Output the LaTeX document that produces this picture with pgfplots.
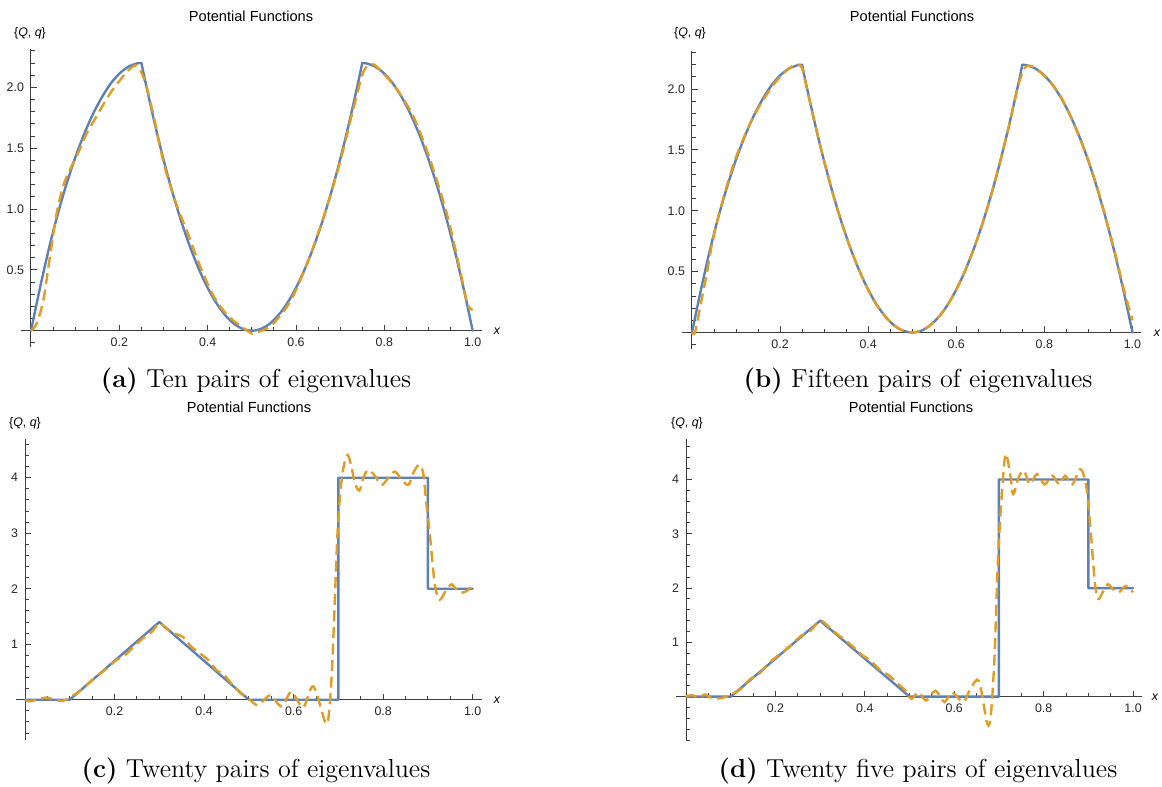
\documentclass[border=0pt]{standalone}
\usepackage{fontspec}
\usepackage{pgfplots}
\pgfplotsset{compat=1.18}
\newfontfamily\mma{Liberation Sans}
\definecolor{QColor}{HTML}{5E81B5}
\definecolor{qColor}{HTML}{E19C24}
\definecolor{AxisGray}{HTML}{404040}

\newcommand\tickfont{\mma\fontsize{6.2}{7.4}\selectfont}
\newcommand\titlefont{\mma\fontsize{7.3}{8.8}\selectfont}
\newcommand\capfont{\fontsize{13}{15.6}\selectfont}

\pgfplotsset{
    mma/.style={
        axis lines=middle,
        axis line style={-, AxisGray, line width=0.5pt},
        tick align=inside,
        major tick length=3pt,
        minor tick length=1.8pt,
        tick style={AxisGray, line width=0.45pt},
        tick label style={font=\tickfont, text=black!85},
        enlargelimits=false,
        xtick={0.2,0.4,0.6,0.8,1.0},
        xticklabels={0.2,0.4,0.6,0.8,1.0},
        minor xtick={0.05,0.1,0.15,0.25,0.3,0.35,0.45,0.5,0.55,0.65,0.7,0.75,0.85,0.9,0.95},
    },
    Qline/.style={QColor, line width=1.2pt, line join=round, line cap=round},
    qline/.style={qColor, line width=1.2pt, dash pattern=on 5.5pt off 2.8pt, smooth},
}

\begin{document}
\begin{tikzpicture}
\useasboundingbox (0,0) rectangle (581pt,-393.5pt);

% ---------------- (a) ten pairs ----------------
\begin{axis}[mma,
    at={(10.5pt,-173.5pt)}, anchor=south west,
    x=220.85pt, y=60.85pt,
    xmin=-0.0226, xmax=1.0204, ymin=-0.134, ymax=2.315,
    ytick={0.5,1.0,1.5,2.0}, yticklabels={0.5,1.0,1.5,2.0},
    minor ytick={-0.1,0.1,0.2,0.3,0.4,0.6,0.7,0.8,0.9,1.1,1.2,1.3,1.4,1.6,1.7,1.8,1.9,2.1,2.2,2.3}]
\addplot[Qline, smooth] coordinates {
    (0,0) (0.02,0.345) (0.04,0.665) (0.06,0.950) (0.08,1.200) (0.10,1.420)
    (0.12,1.612) (0.14,1.778) (0.16,1.915) (0.18,2.028) (0.20,2.112)
    (0.22,2.168) (0.24,2.196) (0.25,2.2)};
\addplot[Qline, smooth] coordinates {
    (0.25,2.2) (0.26,2.028) (0.28,1.704) (0.30,1.408) (0.32,1.140) (0.34,0.901)
    (0.36,0.690) (0.38,0.507) (0.40,0.352) (0.42,0.225) (0.44,0.127) (0.46,0.056)
    (0.48,0.014) (0.50,0) (0.52,0.014) (0.54,0.056) (0.56,0.127) (0.58,0.225)
    (0.60,0.352) (0.62,0.507) (0.64,0.690) (0.66,0.901) (0.68,1.140) (0.70,1.408)
    (0.72,1.704) (0.74,2.028) (0.75,2.2)};
\addplot[Qline, smooth] coordinates {
    (0.75,2.2) (0.76,2.196) (0.78,2.168) (0.80,2.112) (0.82,2.028) (0.84,1.915)
    (0.86,1.774) (0.88,1.605) (0.90,1.408) (0.92,1.183) (0.94,0.929) (0.96,0.648)
    (0.98,0.338) (1.0,0)};
\addplot[qline] coordinates {
    (0,0) (0.013,0.06) (0.028,0.25) (0.043,0.61) (0.058,0.96) (0.073,1.19)
    (0.089,1.33) (0.108,1.47) (0.126,1.62) (0.145,1.74) (0.164,1.86) (0.183,1.97)
    (0.202,2.06) (0.218,2.13) (0.236,2.18) (0.249,2.13) (0.262,2.00) (0.278,1.76)
    (0.301,1.37) (0.331,1.02) (0.354,0.81) (0.384,0.52) (0.414,0.28) (0.444,0.13)
    (0.474,0.04) (0.498,-0.02) (0.504,-0.02) (0.526,0.005) (0.549,0.06) (0.587,0.24)
    (0.625,0.55) (0.663,0.94) (0.70,1.39) (0.731,1.84) (0.753,2.13) (0.772,2.19)
    (0.791,2.14) (0.829,1.98) (0.867,1.75) (0.905,1.39) (0.943,0.94) (0.973,0.47)
    (0.988,0.22) (1.0,0.17)};
\end{axis}

% ---------------- (b) fifteen pairs ----------------
\begin{axis}[mma,
    at={(341pt,-174.4pt)}, anchor=south west,
    x=220.25pt, y=60.85pt,
    xmin=-0.0226, xmax=1.0204, ymin=-0.134, ymax=2.315,
    ytick={0.5,1.0,1.5,2.0}, yticklabels={0.5,1.0,1.5,2.0},
    minor ytick={-0.1,0.1,0.2,0.3,0.4,0.6,0.7,0.8,0.9,1.1,1.2,1.3,1.4,1.6,1.7,1.8,1.9,2.1,2.2,2.3}]
\addplot[Qline, smooth] coordinates {
    (0,0) (0.02,0.345) (0.04,0.665) (0.06,0.950) (0.08,1.200) (0.10,1.420)
    (0.12,1.612) (0.14,1.778) (0.16,1.915) (0.18,2.028) (0.20,2.112)
    (0.22,2.168) (0.24,2.196) (0.25,2.2)};
\addplot[Qline, smooth] coordinates {
    (0.25,2.2) (0.26,2.028) (0.28,1.704) (0.30,1.408) (0.32,1.140) (0.34,0.901)
    (0.36,0.690) (0.38,0.507) (0.40,0.352) (0.42,0.225) (0.44,0.127) (0.46,0.056)
    (0.48,0.014) (0.50,0) (0.52,0.014) (0.54,0.056) (0.56,0.127) (0.58,0.225)
    (0.60,0.352) (0.62,0.507) (0.64,0.690) (0.66,0.901) (0.68,1.140) (0.70,1.408)
    (0.72,1.704) (0.74,2.028) (0.75,2.2)};
\addplot[Qline, smooth] coordinates {
    (0.75,2.2) (0.76,2.196) (0.78,2.168) (0.80,2.112) (0.82,2.028) (0.84,1.915)
    (0.86,1.774) (0.88,1.605) (0.90,1.408) (0.92,1.183) (0.94,0.929) (0.96,0.648)
    (0.98,0.338) (1.0,0)};
\addplot[qline] coordinates {
    (0,0) (0.007,0.0) (0.018,0.2) (0.033,0.47) (0.048,0.77) (0.071,1.10)
    (0.10,1.44) (0.139,1.77) (0.184,2.03) (0.214,2.15) (0.234,2.20) (0.249,2.18)
    (0.26,2.02) (0.28,1.70) (0.30,1.41) (0.32,1.14) (0.34,0.90) (0.36,0.69)
    (0.38,0.51) (0.40,0.35) (0.42,0.22) (0.44,0.125) (0.46,0.055) (0.48,0.013)
    (0.50,0.0) (0.52,0.015) (0.54,0.057) (0.56,0.128) (0.58,0.226) (0.60,0.352)
    (0.62,0.507) (0.64,0.690) (0.66,0.900) (0.68,1.14) (0.70,1.41) (0.72,1.70)
    (0.74,2.02) (0.755,2.17) (0.77,2.19) (0.80,2.11) (0.82,2.03) (0.84,1.92)
    (0.86,1.77) (0.88,1.60) (0.90,1.41) (0.92,1.19) (0.94,0.93) (0.96,0.66)
    (0.98,0.36) (1.0,0.10)};
\end{axis}

% ---------------- (c) twenty pairs ----------------
\begin{axis}[mma,
    at={(8.03pt,-370pt)}, anchor=south west,
    x=223.85pt, y=27.75pt,
    xmin=-0.020, xmax=1.020, ymin=-0.726, ymax=4.69,
    ytick={1,2,3,4}, yticklabels={1,2,3,4},
    minor ytick={-0.6,-0.4,-0.2,0.2,0.4,0.6,0.8,1.2,1.4,1.6,1.8,2.2,2.4,2.6,2.8,3.2,3.4,3.6,3.8,4.2,4.4,4.6}]
\addplot[Qline] coordinates {
    (0,0) (0.1,0) (0.3,1.4) (0.5,0) (0.7,0) (0.7,4) (0.9,4) (0.9,2) (1.0,2)};
\addplot[qline] coordinates {
    (0,-0.01) (0.011,-0.03) (0.026,0.0) (0.048,0.04) (0.063,0.006) (0.078,-0.02)
    (0.093,0.0) (0.108,0.08) (0.13,0.2) (0.145,0.32) (0.16,0.42) (0.182,0.56)
    (0.205,0.72) (0.223,0.80) (0.242,0.95) (0.264,1.11) (0.283,1.22) (0.30,1.38)
    (0.316,1.28) (0.335,1.19) (0.353,1.13) (0.372,0.95) (0.39,0.84) (0.41,0.71)
    (0.428,0.53) (0.443,0.46) (0.461,0.29) (0.48,0.13) (0.502,0.0) (0.521,-0.10)
    (0.547,0.08) (0.573,-0.12) (0.595,0.14) (0.621,-0.14) (0.644,0.24) (0.672,-0.43)
    (0.68,-0.15) (0.686,0.6) (0.692,1.8) (0.698,3.0) (0.705,3.8) (0.713,4.25)
    (0.721,4.41) (0.729,4.2) (0.737,3.9) (0.747,3.77) (0.756,4.0) (0.766,4.14)
    (0.78,4.05) (0.796,3.87) (0.81,3.98) (0.826,4.11) (0.84,3.98) (0.856,3.87)
    (0.868,4.1) (0.88,4.23) (0.889,4.1) (0.895,3.65) (0.904,3.0) (0.915,2.1)
    (0.926,1.8) (0.941,1.98) (0.953,2.08) (0.965,1.97) (0.978,1.93) (0.99,1.98)
    (1.0,2.07)};
\end{axis}

% ---------------- (d) twenty five pairs ----------------
\begin{axis}[mma,
    at={(338.1pt,-370.05pt)}, anchor=south west,
    x=223.5pt, y=27.15pt,
    xmin=-0.022, xmax=1.020, ymin=-0.80, ymax=4.74,
    ytick={1,2,3,4}, yticklabels={1,2,3,4},
    minor ytick={-0.8,-0.6,-0.4,-0.2,0.2,0.4,0.6,0.8,1.2,1.4,1.6,1.8,2.2,2.4,2.6,2.8,3.2,3.4,3.6,3.8,4.2,4.4,4.6}]
\addplot[Qline] coordinates {
    (0,0) (0.1,0) (0.3,1.4) (0.5,0) (0.7,0) (0.7,4) (0.9,4) (0.9,2) (1.0,2)};
\addplot[qline] coordinates {
    (0,0) (0.013,0.03) (0.028,-0.01) (0.043,0.04) (0.057,-0.03) (0.075,-0.03)
    (0.09,0) (0.105,0.06) (0.124,0.15) (0.143,0.32) (0.166,0.44) (0.184,0.61)
    (0.203,0.74) (0.222,0.86) (0.24,0.99) (0.259,1.13) (0.278,1.21) (0.30,1.40)
    (0.319,1.29) (0.337,1.16) (0.356,1.04) (0.375,0.91) (0.393,0.77) (0.412,0.67)
    (0.434,0.49) (0.453,0.40) (0.472,0.25) (0.49,0.12) (0.504,-0.04) (0.52,0.08)
    (0.537,-0.07) (0.558,0.11) (0.578,-0.10) (0.595,0.08) (0.62,-0.10) (0.636,0.14)
    (0.655,0.29) (0.674,-0.50) (0.682,-0.32) (0.69,0.72) (0.698,2.56) (0.707,3.79)
    (0.715,4.47) (0.725,4.1) (0.732,3.73) (0.744,4.04) (0.756,4.16) (0.769,3.91)
    (0.785,4.1) (0.802,3.91) (0.819,4.07) (0.835,3.91) (0.848,4.07) (0.864,3.91)
    (0.882,4.19) (0.893,3.98) (0.899,3.61) (0.907,2.87) (0.915,2.07) (0.922,1.80)
    (0.93,1.89) (0.943,2.07) (0.955,1.98) (0.968,1.92) (0.984,2.04) (1.0,1.92)};
\end{axis}

% titles, axis labels, captions
\node[font=\titlefont] at (125.5pt,-8.35pt) {Potential Functions};
\node[font=\titlefont] at (456pt,-8.35pt) {Potential Functions};
\node[font=\titlefont] at (124.5pt,-203.5pt) {Potential Functions};
\node[font=\titlefont] at (455.5pt,-203.5pt) {Potential Functions};

\node[font=\tickfont] at (15pt,-16.5pt) {\{\textit{Q}, \textit{q}\}};
\node[font=\tickfont] at (345pt,-16.5pt) {\{\textit{Q}, \textit{q}\}};
\node[font=\tickfont] at (12.5pt,-211.5pt) {\{\textit{Q}, \textit{q}\}};
\node[font=\tickfont] at (343.5pt,-211.5pt) {\{\textit{Q}, \textit{q}\}};

\node[font=\tickfont\itshape] at (248.5pt,-165.5pt) {x};
\node[font=\tickfont\itshape] at (578.5pt,-166.5pt) {x};
\node[font=\tickfont\itshape] at (248.5pt,-350pt) {x};
\node[font=\tickfont\itshape] at (577.5pt,-348.5pt) {x};

\node[font=\capfont] at (128pt,-190.5pt) {\textbf{(a)} Ten pairs of eigenvalues};
\node[font=\capfont] at (459pt,-190.5pt) {\textbf{(b)} Fifteen pairs of eigenvalues};
\node[font=\capfont] at (128pt,-385.5pt) {\textbf{(c)} Twenty pairs of eigenvalues};
\node[font=\capfont] at (459pt,-385.5pt) {\textbf{(d)} Twenty five pairs of eigenvalues};
\end{tikzpicture}
\end{document}
